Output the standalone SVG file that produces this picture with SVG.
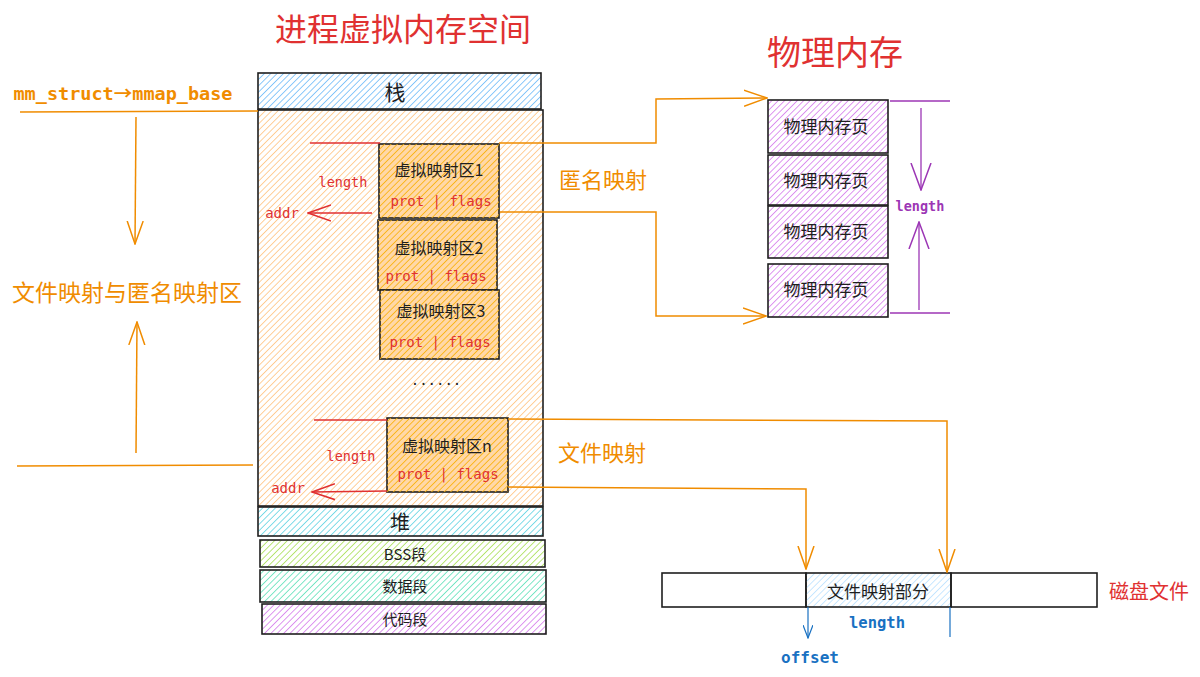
<svg xmlns="http://www.w3.org/2000/svg" width="1200" height="677" viewBox="0 0 1200 677">
<defs>
<pattern id="hOrange" width="4.5" height="4.5" patternUnits="userSpaceOnUse" patternTransform="rotate(45)"><line x1="0" y1="0" x2="0" y2="4.5" stroke="#ffc078" stroke-width="1.5"/></pattern>
<pattern id="hOrange2" width="4.5" height="4.5" patternUnits="userSpaceOnUse" patternTransform="rotate(45)"><line x1="0" y1="0" x2="0" y2="4.5" stroke="#fab005" stroke-width="1.6"/></pattern>
<pattern id="hBlue" width="4.5" height="4.5" patternUnits="userSpaceOnUse" patternTransform="rotate(45)"><line x1="0" y1="0" x2="0" y2="4.5" stroke="#4dabf7" stroke-width="1.3"/></pattern>
<pattern id="hLBlue" width="4.5" height="4.5" patternUnits="userSpaceOnUse" patternTransform="rotate(45)"><line x1="0" y1="0" x2="0" y2="4.5" stroke="#a5d8ff" stroke-width="1.2"/></pattern>
<pattern id="hCyan" width="4.5" height="4.5" patternUnits="userSpaceOnUse" patternTransform="rotate(45)"><line x1="0" y1="0" x2="0" y2="4.5" stroke="#3bc9db" stroke-width="1.3"/></pattern>
<pattern id="hLime" width="4.5" height="4.5" patternUnits="userSpaceOnUse" patternTransform="rotate(45)"><line x1="0" y1="0" x2="0" y2="4.5" stroke="#94d82d" stroke-width="1.3"/></pattern>
<pattern id="hTeal" width="4.5" height="4.5" patternUnits="userSpaceOnUse" patternTransform="rotate(45)"><line x1="0" y1="0" x2="0" y2="4.5" stroke="#38d9a9" stroke-width="1.3"/></pattern>
<pattern id="hPurple" width="4.5" height="4.5" patternUnits="userSpaceOnUse" patternTransform="rotate(45)"><line x1="0" y1="0" x2="0" y2="4.5" stroke="#cc5de8" stroke-width="1.3"/></pattern>
<marker id="aOrange" viewBox="0 0 24 20" refX="23" refY="10" markerWidth="24" markerHeight="20" markerUnits="userSpaceOnUse" orient="auto"><path d="M0,2 L23,10 L0,18" fill="none" stroke="#f08c00" stroke-width="1.5"/></marker>
<marker id="aRed" viewBox="0 0 24 20" refX="23" refY="10" markerWidth="24" markerHeight="20" markerUnits="userSpaceOnUse" orient="auto"><path d="M0,2 L23,10 L0,18" fill="none" stroke="#e03131" stroke-width="1.5"/></marker>
<marker id="aPurple" viewBox="0 0 28 24" refX="27" refY="12" markerWidth="28" markerHeight="24" markerUnits="userSpaceOnUse" orient="auto"><path d="M0,2 L27,12 L0,22" fill="none" stroke="#9c36b5" stroke-width="1.5"/></marker>
<marker id="aBlue" viewBox="0 0 14 10" refX="13" refY="5" markerWidth="14" markerHeight="10" markerUnits="userSpaceOnUse" orient="auto"><path d="M0,0 L13,5 L0,10" fill="none" stroke="#1971c2" stroke-width="1.2"/></marker>
</defs>
<style>
.box{stroke:#1e1e1e;stroke-width:1.6}
.cjk{font-family:"Noto Sans CJK SC","Noto Sans",sans-serif;fill:#1e1e1e}
.mono{font-family:"DejaVu Sans Mono","Liberation Mono",monospace}
.org{stroke:#f08c00;stroke-width:1.5;fill:none}
.red{stroke:#e03131;stroke-width:1.3;fill:none}
.pur{stroke:#9c36b5;stroke-width:1.3;fill:none}
.blu{stroke:#1971c2;stroke-width:1.2;fill:none}
</style>
<rect width="1200" height="677" fill="#ffffff"/>

<g id="titles">
<text x="403" y="41" text-anchor="middle" class="cjk" font-size="32" style="fill:#e03131">进程虚拟内存空间</text>
<text x="835" y="65" text-anchor="middle" class="cjk" font-size="34" style="fill:#e03131">物理内存</text>
</g>

<g id="stack"><rect x="258" y="73" width="283" height="36" fill="url(#hBlue)" class="box"/><text x="395" y="100" text-anchor="middle" class="cjk" font-size="21">栈</text></g>
<g id="mmap-area"><rect x="258" y="110" width="285" height="396" fill="url(#hOrange)" class="box"/></g>
<g id="heap"><rect x="258" y="507" width="285" height="29" fill="url(#hCyan)" class="box"/><text x="400" y="530" text-anchor="middle" class="cjk" font-size="20">堆</text></g>
<g id="bss"><rect x="260" y="540" width="285" height="27" fill="url(#hLime)" class="box"/><text x="405" y="560" text-anchor="middle" class="cjk" font-size="15">BSS段</text></g>
<g id="data"><rect x="260" y="570" width="286" height="32" fill="url(#hTeal)" class="box"/><text x="405" y="592" text-anchor="middle" class="cjk" font-size="15">数据段</text></g>
<g id="code"><rect x="262" y="604" width="284" height="30" fill="url(#hPurple)" class="box"/><text x="405" y="625" text-anchor="middle" class="cjk" font-size="15">代码段</text></g>

<g id="vma1"><rect x="379" y="144" width="120" height="74" fill="#ffd8a8" class="box"/><rect x="379" y="144" width="120" height="74" fill="url(#hOrange2)"/><text x="439" y="176" text-anchor="middle" class="cjk" font-size="16">虚拟映射区1</text><text x="441" y="206" text-anchor="middle" class="mono" font-size="14" fill="#e03131">prot | flags</text></g>
<g id="vma2"><rect x="378" y="220" width="119" height="70" fill="#ffd8a8" class="box"/><rect x="378" y="220" width="119" height="70" fill="url(#hOrange2)"/><text x="439" y="254" text-anchor="middle" class="cjk" font-size="16">虚拟映射区2</text><text x="436" y="281" text-anchor="middle" class="mono" font-size="14" fill="#e03131">prot | flags</text></g>
<g id="vma3"><rect x="380" y="290" width="119" height="69" fill="#ffd8a8" class="box"/><rect x="380" y="290" width="119" height="69" fill="url(#hOrange2)"/><text x="441" y="317" text-anchor="middle" class="cjk" font-size="16">虚拟映射区3</text><text x="440" y="347" text-anchor="middle" class="mono" font-size="14" fill="#e03131">prot | flags</text></g>
<g id="dots"><text x="436" y="385" text-anchor="middle" class="mono" font-size="14" fill="#1e1e1e">......</text></g>
<g id="vman"><rect x="387" y="418" width="121" height="74" fill="#ffd8a8" class="box"/><rect x="387" y="418" width="121" height="74" fill="url(#hOrange2)"/><text x="447" y="452" text-anchor="middle" class="cjk" font-size="16">虚拟映射区n</text><text x="448" y="479" text-anchor="middle" class="mono" font-size="14" fill="#e03131">prot | flags</text></g>

<g id="page1"><rect x="768" y="100" width="120" height="53" fill="url(#hPurple)" class="box"/><text x="826" y="133" text-anchor="middle" class="cjk" font-size="17">物理内存页</text></g>
<g id="page2"><rect x="768" y="155" width="120" height="50" fill="url(#hPurple)" class="box"/><text x="826" y="187" text-anchor="middle" class="cjk" font-size="17">物理内存页</text></g>
<g id="page3"><rect x="768" y="206" width="120" height="52" fill="url(#hPurple)" class="box"/><text x="826" y="238" text-anchor="middle" class="cjk" font-size="17">物理内存页</text></g>
<g id="page4"><rect x="768" y="264" width="120" height="53" fill="url(#hPurple)" class="box"/><text x="826" y="296" text-anchor="middle" class="cjk" font-size="17">物理内存页</text></g>

<g id="disk">
<rect x="662" y="573" width="144" height="34" fill="none" class="box"/>
<rect x="806" y="573" width="145" height="34" fill="url(#hLBlue)" class="box"/>
<rect x="951" y="573" width="146" height="34" fill="none" class="box"/>
<text x="878" y="598" text-anchor="middle" class="cjk" font-size="17">文件映射部分</text>
<text x="1149" y="599" text-anchor="middle" class="cjk" font-size="20" style="fill:#e03131">磁盘文件</text>
</g>

<g id="labels">
<text x="123" y="100" text-anchor="middle" class="mono" font-size="18.5" font-weight="bold" fill="#f08c00">mm_struct<tspan font-family="'Noto Sans CJK SC','DejaVu Sans',sans-serif">→</tspan>mmap_base</text>
<text x="127" y="301" text-anchor="middle" class="cjk" font-size="23" style="fill:#f08c00">文件映射与匿名映射区</text>
<text x="603" y="188" text-anchor="middle" class="cjk" font-size="22" style="fill:#f08c00">匿名映射</text>
<text x="602" y="461" text-anchor="middle" class="cjk" font-size="22" style="fill:#f08c00">文件映射</text>
<text x="343" y="187" text-anchor="middle" class="mono" font-size="13.5" fill="#e03131">length</text>
<text x="282" y="218" text-anchor="middle" class="mono" font-size="14" fill="#e03131">addr</text>
<text x="351" y="461" text-anchor="middle" class="mono" font-size="13.5" fill="#e03131">length</text>
<text x="288" y="493" text-anchor="middle" class="mono" font-size="14" fill="#e03131">addr</text>
<text x="920" y="211" text-anchor="middle" class="mono" font-size="13.5" font-weight="bold" fill="#9c36b5">length</text>
<text x="877" y="628" text-anchor="middle" class="mono" font-size="15.5" font-weight="bold" fill="#1971c2">length</text>
<text x="810" y="663" text-anchor="middle" class="mono" font-size="16" font-weight="bold" fill="#1971c2">offset</text>
</g>

<g id="connectors">
<line x1="20" y1="112" x2="258" y2="111" class="org"/>
<line x1="136" y1="117" x2="135" y2="244" class="org" marker-end="url(#aOrange)"/>
<line x1="136" y1="453" x2="137" y2="322" class="org" marker-end="url(#aOrange)"/>
<line x1="17" y1="466" x2="253" y2="465" class="org"/>
<polyline points="499,143 656,143 656,99 767,98" class="org" marker-end="url(#aOrange)"/>
<polyline points="500,212 656,212 656,316 766,316" class="org" marker-end="url(#aOrange)"/>
<polyline points="508,419 947,421 947,572" class="org" marker-end="url(#aOrange)"/>
<polyline points="508,487 806,489 806,569" class="org" marker-end="url(#aOrange)"/>
<line x1="310" y1="143" x2="380" y2="143" class="red"/>
<line x1="372" y1="213" x2="308" y2="213" class="red" marker-end="url(#aRed)"/>
<line x1="314" y1="420" x2="387" y2="420" class="red"/>
<line x1="387" y1="491" x2="312" y2="492" class="red" marker-end="url(#aRed)"/>
<line x1="890" y1="101" x2="950" y2="101" class="pur"/>
<line x1="890" y1="313" x2="950" y2="313" class="pur"/>
<line x1="921" y1="108" x2="921" y2="190" class="pur" marker-end="url(#aPurple)"/>
<line x1="919" y1="310" x2="919" y2="222" class="pur" marker-end="url(#aPurple)"/>
<line x1="808" y1="607" x2="808" y2="638" class="blu" marker-end="url(#aBlue)"/>
<line x1="950" y1="607" x2="950" y2="637" class="blu"/>
</g>
</svg>
